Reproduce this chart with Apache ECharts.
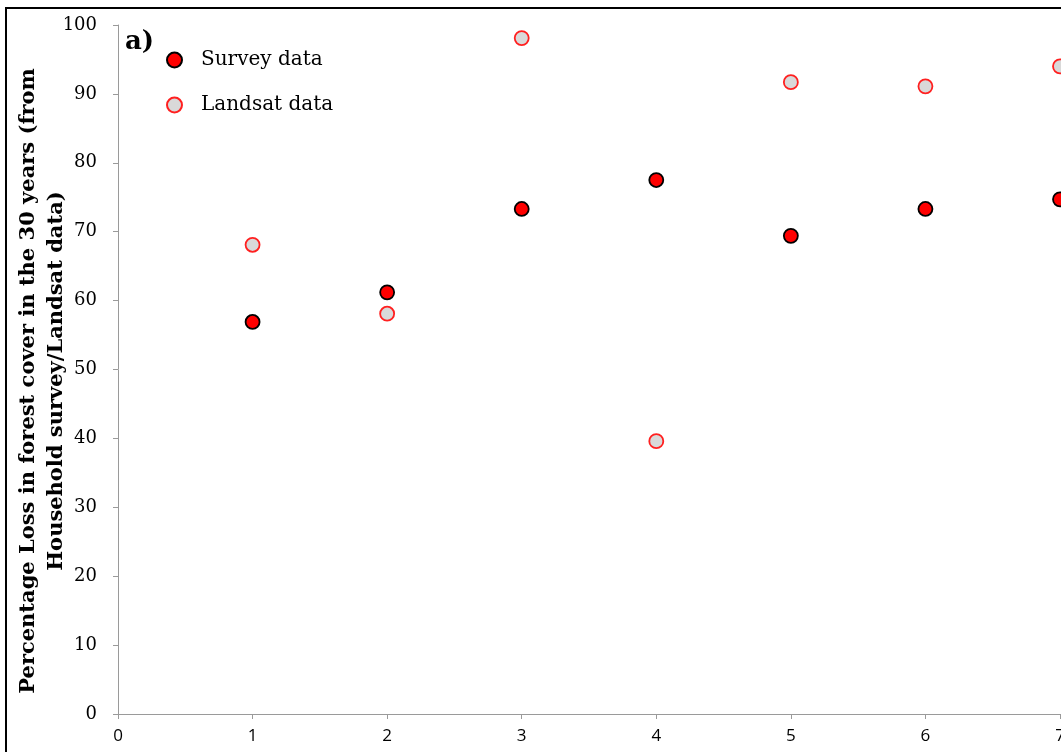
<!DOCTYPE html>
<html>
<head>
<meta charset="utf-8">
<script src="https://cdn.jsdelivr.net/npm/echarts@6/dist/echarts.min.js"></script>
<style>
  html, body { margin: 0; padding: 0; background: #fff; }
  #chart { width: 1061px; height: 752px; }
</style>
</head>
<body>
<div id="chart"></div>
<script>
// Sites (1-7) and percentage loss in forest cover over 30 years
const sites = [1, 2, 3, 4, 5, 6, 7];
const surveyLoss = [56.9, 61.2, 73.3, 77.5, 69.4, 73.3, 74.7];
const landsatLoss = [68.1, 58.1, 98.1, 39.6, 91.7, 91.1, 94.0];
const seriesNames = ['Survey data', 'Landsat data'];
const yTitle = 'Percentage Loss in forest cover in the 30 years (from\nHousehold survey/Landsat data)';

const pairs = (xs, ys) => xs.map((x, i) => [x, ys[i]]);
const serif = '"DejaVu Serif", "Liberation Serif", serif';

const chart = echarts.init(document.getElementById('chart'), null, { renderer: 'canvas' });
chart.setOption({
  backgroundColor: '#ffffff',
  animation: false,
  grid: { left: 118, top: 25, right: 1, bottom: 38, containLabel: false, outerBoundsMode: 'none' },
  xAxis: {
    type: 'value', min: 0, max: 7, interval: 1,
    axisLine: { show: true, lineStyle: { color: '#9a9a9a', width: 1 } },
    axisTick: { show: true, length: 5, lineStyle: { color: '#9a9a9a' } },
    axisLabel: { color: '#000', fontSize: 17, fontFamily: '"Open Sans", "Lato", sans-serif', margin: 14 },
    splitLine: { show: false }
  },
  yAxis: {
    type: 'value', min: 0, max: 100, interval: 10,
    axisLine: { show: true, lineStyle: { color: '#9a9a9a', width: 1 } },
    axisTick: { show: true, length: 5, lineStyle: { color: '#9a9a9a' } },
    axisLabel: { color: '#000', fontSize: 18, fontFamily: serif, margin: 21 },
    splitLine: { show: false }
  },
  legend: {
    orient: 'vertical', left: 161, top: 42,
    itemWidth: 15, itemHeight: 15, itemGap: 19,
    icon: 'circle',
    textStyle: { fontSize: 20, fontFamily: serif, color: '#000', lineHeight: 26, padding: [0, 0, 0, 14] },
    data: seriesNames
  },
  series: [
    {
      name: seriesNames[0], type: 'scatter', symbol: 'circle', symbolSize: 14,
      itemStyle: { color: '#ff0000', borderColor: '#000000', borderWidth: 1.8, opacity: 1 },
      data: pairs(sites, surveyLoss), z: 3
    },
    {
      name: seriesNames[1], type: 'scatter', symbol: 'circle', symbolSize: 14,
      itemStyle: { color: '#d9d9d9', borderColor: '#ff2020', borderWidth: 1.8, opacity: 1 },
      data: pairs(sites, landsatLoss), z: 2
    }
  ],
  graphic: [
    {
      type: 'rect', z: 0, silent: true,
      shape: { x: 6, y: 8, width: 1100, height: 800 },
      style: { fill: 'none', stroke: '#000', lineWidth: 2 }
    },
    {
      type: 'text', left: 125, top: 29, z: 10,
      style: { text: 'a)', font: 'bold 26px ' + serif, fill: '#000' }
    },
    {
      type: 'text', x: 43, y: 381, rotation: Math.PI / 2, z: 10,
      style: {
        text: yTitle, font: 'bold 21px ' + serif, fill: '#000',
        align: 'center', verticalAlign: 'middle', lineHeight: 28
      }
    }
  ]
});
</script>
</body>
</html>
